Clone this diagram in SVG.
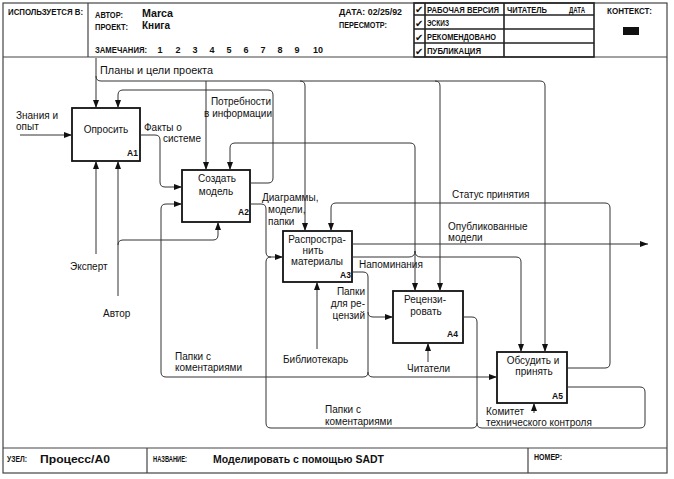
<svg xmlns="http://www.w3.org/2000/svg" width="674" height="479" viewBox="0 0 674 479">
<style>
.frame{fill:none;stroke:#444;stroke-width:1.2}
.tbl{fill:none;stroke:#222;stroke-width:1.6}
.box{fill:#fff;stroke:#111;stroke-width:1.8}
.ln{fill:none;stroke:#333;stroke-width:1}
.t{font-family:"Liberation Sans",Arial,sans-serif;font-size:10px;fill:#111}
.c{text-anchor:middle}
.e{text-anchor:end}
.h{font-family:"Liberation Sans",Arial,sans-serif;font-size:9px;font-weight:bold;fill:#111}
.hv{font-family:"Liberation Sans",Arial,sans-serif;font-size:10px;font-weight:bold;fill:#111}
.id{font-family:"Liberation Sans",Arial,sans-serif;font-size:8.5px;font-weight:bold;fill:#111}
.ck{font-family:"DejaVu Sans",sans-serif;font-size:10px;font-weight:bold;fill:#111}
</style>
<defs>
<marker id="ah" viewBox="0 0 8 6" refX="8" refY="3" markerWidth="8" markerHeight="6" markerUnits="userSpaceOnUse" orient="auto"><path d="M0,0 L8,3 L0,6 z" fill="#111"/></marker>
</defs>
<rect width="674" height="479" fill="#fff"/>
<g id="frame">
<rect class="frame" x="3" y="3" width="664" height="470"/>
<line class="frame" x1="3" y1="57" x2="667" y2="57"/>
<line class="frame" x1="88" y1="3" x2="88" y2="57"/>
<rect class="tbl" x="414" y="3" width="180" height="54"/>
<line class="tbl" x1="414" y1="15" x2="594" y2="15"/>
<line class="tbl" x1="414" y1="29" x2="594" y2="29"/>
<line class="tbl" x1="414" y1="43" x2="594" y2="43"/>
<line class="tbl" x1="425" y1="3" x2="425" y2="57"/>
<line class="tbl" x1="504" y1="3" x2="504" y2="57"/>
<rect x="623" y="27" width="16" height="8" fill="#111"/>
<line class="frame" x1="3" y1="448" x2="667" y2="448"/>
<line class="frame" x1="147" y1="448" x2="147" y2="473"/>
<line class="frame" x1="528" y1="448" x2="528" y2="473"/>
</g>
<g id="header">
<text class="h" x="8" y="15" textLength="75" lengthAdjust="spacingAndGlyphs">ИСПОЛЬЗУЕТСЯ В:</text>
<text class="h" x="95" y="18" textLength="28" lengthAdjust="spacingAndGlyphs">АВТОР:</text>
<text class="hv" x="142" y="17" textLength="31" lengthAdjust="spacingAndGlyphs">Marca</text>
<text class="h" x="95" y="30" textLength="33" lengthAdjust="spacingAndGlyphs">ПРОЕКТ:</text>
<text class="hv" x="142" y="29" textLength="28" lengthAdjust="spacingAndGlyphs">Книга</text>
<text class="h" x="95" y="53" textLength="52" lengthAdjust="spacingAndGlyphs">ЗАМЕЧАНИЯ:</text>
<text class="h c" x="160" y="53">1</text>
<text class="h c" x="178" y="53">2</text>
<text class="h c" x="195" y="53">3</text>
<text class="h c" x="212" y="53">4</text>
<text class="h c" x="229" y="53">5</text>
<text class="h c" x="246" y="53">6</text>
<text class="h c" x="263" y="53">7</text>
<text class="h c" x="280" y="53">8</text>
<text class="h c" x="297" y="53">9</text>
<text class="h c" x="318" y="53">10</text>
<text class="h" x="339" y="15" textLength="63" lengthAdjust="spacingAndGlyphs">ДАТА: 02/25/92</text>
<text class="h" x="339" y="28" textLength="48" lengthAdjust="spacingAndGlyphs">ПЕРЕСМОТР:</text>
<text class="ck" x="415" y="13">✔</text>
<text class="ck" x="415" y="27">✔</text>
<text class="ck" x="415" y="41">✔</text>
<text class="ck" x="415" y="55">✔</text>
<text class="h" x="427" y="13" textLength="72" lengthAdjust="spacingAndGlyphs">РАБОЧАЯ ВЕРСИЯ</text>
<text class="h" x="427" y="26" textLength="22" lengthAdjust="spacingAndGlyphs">ЭСКИЗ</text>
<text class="h" x="427" y="40" textLength="69" lengthAdjust="spacingAndGlyphs">РЕКОМЕНДОВАНО</text>
<text class="h" x="427" y="54" textLength="54" lengthAdjust="spacingAndGlyphs">ПУБЛИКАЦИЯ</text>
<text class="h" x="507" y="13" textLength="40" lengthAdjust="spacingAndGlyphs">ЧИТАТЕЛЬ</text>
<text class="h" x="569" y="13" textLength="16" lengthAdjust="spacingAndGlyphs">ДАТА</text>
<text class="h" x="607" y="14" textLength="45" lengthAdjust="spacingAndGlyphs">КОНТЕКСТ:</text>
</g>
<g id="footer">
<text class="h" x="7" y="462" textLength="20" lengthAdjust="spacingAndGlyphs">УЗЕЛ:</text>
<text class="hv" x="40" y="463" font-size="11" textLength="70" lengthAdjust="spacingAndGlyphs">Процесс/A0</text>
<text class="h" x="153" y="462" textLength="34" lengthAdjust="spacingAndGlyphs">НАЗВАНИЕ:</text>
<text class="hv" x="213" y="463" textLength="171" lengthAdjust="spacingAndGlyphs">Моделировать с помощью SADT</text>
<text class="h" x="534" y="460" textLength="28" lengthAdjust="spacingAndGlyphs">НОМЕР:</text>
</g>
<g id="A1">
<rect class="box" x="72" y="108" width="68" height="53"/>
<text class="t c" x="106" y="133">Опросить</text>
<text class="id" x="127" y="156">A1</text>
</g>
<g id="A2">
<rect class="box" x="182" y="170" width="68" height="52"/>
<text class="t c" x="217" y="182">Создать</text>
<text class="t c" x="216" y="195">модель</text>
<text class="id" x="238" y="215">A2</text>
</g>
<g id="A3">
<rect class="box" x="283" y="231" width="69" height="51"/>
<text class="t c" x="317" y="243">Распростра-</text>
<text class="t c" x="313" y="254">нить</text>
<text class="t c" x="317" y="265">материалы</text>
<text class="id" x="340" y="278">A3</text>
</g>
<g id="A4">
<rect class="box" x="393" y="291" width="70" height="52"/>
<text class="t c" x="425" y="303">Рецензи-</text>
<text class="t c" x="426" y="315">ровать</text>
<text class="id" x="447" y="337">A4</text>
</g>
<g id="A5">
<rect class="box" x="497" y="352" width="70" height="51"/>
<text class="t c" x="533" y="364">Обсудить и</text>
<text class="t c" x="534" y="375">принять</text>
<text class="id" x="552" y="399">A5</text>
</g>
<g id="connectors">
<path class="ln" d="M96,58 V108" marker-end="url(#ah)"/>
<path class="ln" d="M96,76 Q96,81 101,81 H540 Q545,81 545,86 V352" marker-end="url(#ah)"/>
<path class="ln" d="M206,81 V170" marker-end="url(#ah)"/>
<path class="ln" d="M300,81 Q305,81 305,86 V231" marker-end="url(#ah)"/>
<path class="ln" d="M435,81 Q440,81 440,86 V291" marker-end="url(#ah)"/>
<path class="ln" d="M250,183 H268 Q273,183 273,178 V95 Q273,90 268,90 H123 Q118,90 118,95 V108" marker-end="url(#ah)"/>
<path class="ln" d="M140,135 H155 Q160,135 160,140 V182 Q160,187 165,187 H182" marker-end="url(#ah)"/>
<path class="ln" d="M20,135 H72" marker-end="url(#ah)"/>
<path class="ln" d="M96,254 V161" marker-end="url(#ah)"/>
<path class="ln" d="M118,296 V161" marker-end="url(#ah)"/>
<path class="ln" d="M118,245 Q118,240 123,240 H213 Q218,240 218,235 V222" marker-end="url(#ah)"/>
<path class="ln" d="M415,251 V148 Q415,143 410,143 H235 Q230,143 230,148 V170" marker-end="url(#ah)"/>
<path class="ln" d="M415,251 V291" marker-end="url(#ah)"/>
<path class="ln" d="M352,257 H409 Q415,257 415,251"/>
<path class="ln" d="M415,251 Q415,257 421,257 H516 Q521,257 521,262 V352" marker-end="url(#ah)"/>
<path class="ln" d="M567,368 H605 Q610,368 610,363 V208 Q610,203 605,203 H336 Q331,203 331,208 V231" marker-end="url(#ah)"/>
<path class="ln" d="M250,204 H261 Q266,204 266,209 V252 Q266,257 271,257 H283" marker-end="url(#ah)"/>
<path class="ln" d="M463,317 H472 Q477,317 477,322 V423 Q477,428 472,428 H271 Q266,428 266,423 V262 Q266,257 271,257"/>
<path class="ln" d="M567,387 H640 Q645,387 645,392 V423 Q645,428 640,428 H482 Q477,428 477,423"/>
<path class="ln" d="M352,272 H363 Q368,272 368,277 V312 Q368,317 373,317 H393" marker-end="url(#ah)"/>
<path class="ln" d="M368,312 V372 Q368,377 363,377 H166 Q161,377 161,372 V209 Q161,204 166,204 H182" marker-end="url(#ah)"/>
<path class="ln" d="M368,372 Q368,377 373,377 H497" marker-end="url(#ah)"/>
<path class="ln" d="M352,244 H648" marker-end="url(#ah)"/>
<path class="ln" d="M317,349 V282" marker-end="url(#ah)"/>
<path class="ln" d="M428,362 V343" marker-end="url(#ah)"/>
<path class="ln" d="M534,413 V403" marker-end="url(#ah)"/>
</g>
<g id="labels">
<text class="t" x="100" y="74" textLength="113" lengthAdjust="spacingAndGlyphs">Планы и цели проекта</text>
<text class="t e" x="271" y="105">Потребности</text>
<text class="t e" x="272" y="117">в информации</text>
<text class="t" x="16" y="119">Знания и</text>
<text class="t" x="16" y="130">опыт</text>
<text class="t" x="144" y="131">Факты о</text>
<text class="t" x="163" y="142">системе</text>
<text class="t" x="262" y="201">Диаграммы,</text>
<text class="t" x="268" y="213">модели,</text>
<text class="t" x="268" y="225">папки</text>
<text class="t" x="452" y="198">Статус принятия</text>
<text class="t" x="448" y="230">Опубликованные</text>
<text class="t" x="448" y="241">модели</text>
<text class="t" x="359" y="268">Напоминания</text>
<text class="t e" x="365" y="295">Папки</text>
<text class="t e" x="365" y="307">для ре-</text>
<text class="t e" x="365" y="319">цензий</text>
<text class="t" x="70" y="270">Эксперт</text>
<text class="t" x="103" y="317">Автор</text>
<text class="t" x="283" y="363">Библиотекарь</text>
<text class="t" x="407" y="372">Читатели</text>
<text class="t" x="175" y="360">Папки с</text>
<text class="t" x="175" y="371">коментариями</text>
<text class="t" x="325" y="413">Папки с</text>
<text class="t" x="325" y="425">коментариями</text>
<text class="t" x="486" y="415">Комитет</text>
<text class="t" x="486" y="426">технического контроля</text>
</g>
</svg>
